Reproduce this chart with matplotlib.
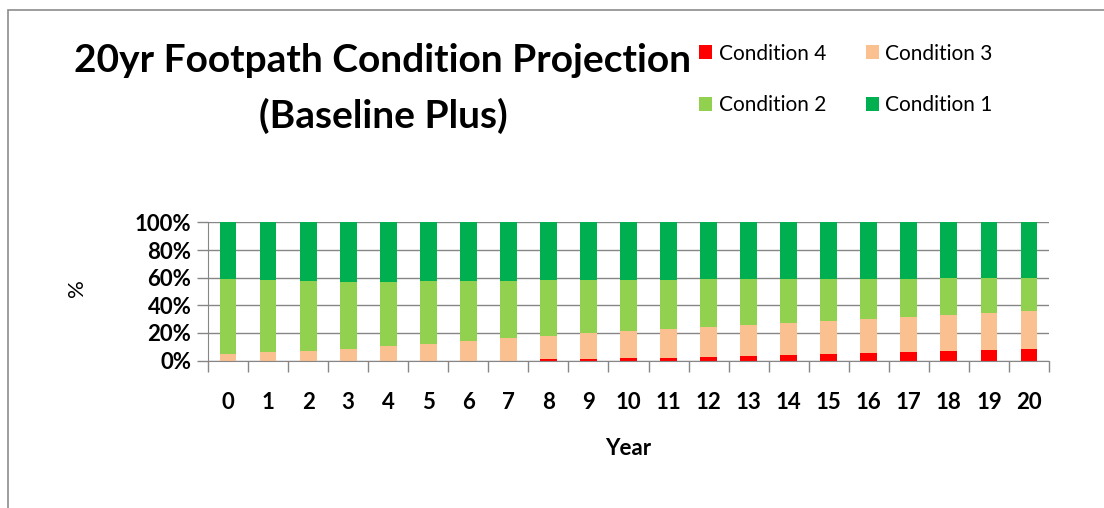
import numpy as np
from matplotlib import pyplot as plt
from matplotlib.patches import Rectangle

plt.rcParams['font.family'] = ['Lato', 'DejaVu Sans']

# (percent of footpath network in each condition)
years = [str(y) for y in range(21)]
cond4 = [0.0, 0.0, 0.0, 0.0, 0.0, 0.0, 0.0, 0.0, 1.2, 1.2, 1.7,
         1.7, 2.4, 3.1, 3.9, 4.6, 5.6, 6.3, 7.0, 7.7, 8.5]
cond3 = [4.6, 6.3, 7.0, 8.5, 10.6, 12.1, 14.3, 16.4, 16.7, 18.8, 19.8,
         21.2, 22.0, 22.7, 23.4, 24.1, 24.6, 25.3, 26.1, 26.8, 27.5]
cond2 = [54.6, 52.2, 50.7, 48.5, 46.4, 45.6, 43.4, 41.3, 40.6, 38.5, 37.0,
         35.6, 34.8, 33.4, 31.9, 30.5, 29.0, 27.6, 26.8, 25.4, 23.9]
cond1 = [40.8, 41.5, 42.3, 43.0, 43.0, 42.3, 42.3, 42.3, 41.5, 41.5, 41.5,
         41.5, 40.8, 40.8, 40.8, 40.8, 40.8, 40.8, 40.1, 40.1, 40.1]

col4 = '#FF0000'
col3 = '#FAC090'
col2 = '#92D050'
col1 = '#00B050'
grey = '#868686'

fig = plt.figure(figsize=(11.04, 5.08), dpi=100)
ax = fig.add_axes([208/1104, 1-360.5/508, 841/1104, 138/508])

x = np.arange(len(years))
w = 0.42
b4 = ax.bar(x, cond4, w, color=col4, label='Condition 4', zorder=3)
b3 = ax.bar(x, cond3, w, bottom=cond4, color=col3, label='Condition 3', zorder=3)
bot2 = np.array(cond4) + np.array(cond3)
b2 = ax.bar(x, cond2, w, bottom=bot2, color=col2, label='Condition 2', zorder=3)
bot1 = bot2 + np.array(cond2)
b1 = ax.bar(x, cond1, w, bottom=bot1, color=col1, label='Condition 1', zorder=3)

ax.set_xlim(-0.5, len(years) - 0.5)
ax.set_ylim(0, 100)
ax.set_yticks([0, 20, 40, 60, 80, 100])
ax.set_yticklabels(['0%', '20%', '40%', '60%', '80%', '100%'],
                   fontsize=16, fontweight='bold')
ax.set_xticks(x)
ax.set_xticklabels(years, fontsize=16, fontweight='bold')
ax.set_xticks(np.arange(-0.5, len(years)), minor=True)
ax.tick_params(axis='x', which='major', length=0, pad=23)
ax.tick_params(axis='x', which='minor', length=8, color=grey, width=1)
ax.tick_params(axis='y', length=8, color=grey, width=1, pad=4)

ax.grid(axis='y', color=grey, lw=1, zorder=0)
for s in ['top', 'right']:
    ax.spines[s].set_visible(False)
for s in ['left', 'bottom']:
    ax.spines[s].set_color(grey)
ax.spines['bottom'].set_zorder(4)

ax.set_xlabel('Year', fontsize=16, fontweight='bold', labelpad=18)
fig.text(77/1104, 1-288/508, '%', fontsize=16, rotation=90,
         ha='center', va='center')

fig.text(383/1104, 1-88.5/508, '20yr Footpath Condition Projection\n(Baseline Plus)',
         fontsize=28, fontweight='bold', ha='center', va='center', linespacing=1.65)

leg = fig.legend([b4, b2, b3, b1],
                 ['Condition 4', 'Condition 2', 'Condition 3', 'Condition 1'],
                 ncol=2, loc='upper left', bbox_to_anchor=(680/1104, 1-25/508),
                 frameon=False, fontsize=15, handlelength=0.65, handleheight=0.65,
                 handletextpad=0.3, columnspacing=1.9, labelspacing=1.5)

# chart frame
fig.patches.append(Rectangle((8/1104, -0.1), 1.2, 1.1 - 10/508, transform=fig.transFigure,
                             fill=False, edgecolor='#8C8C8C', lw=1.2))

plt.savefig('out.png', dpi=100)
